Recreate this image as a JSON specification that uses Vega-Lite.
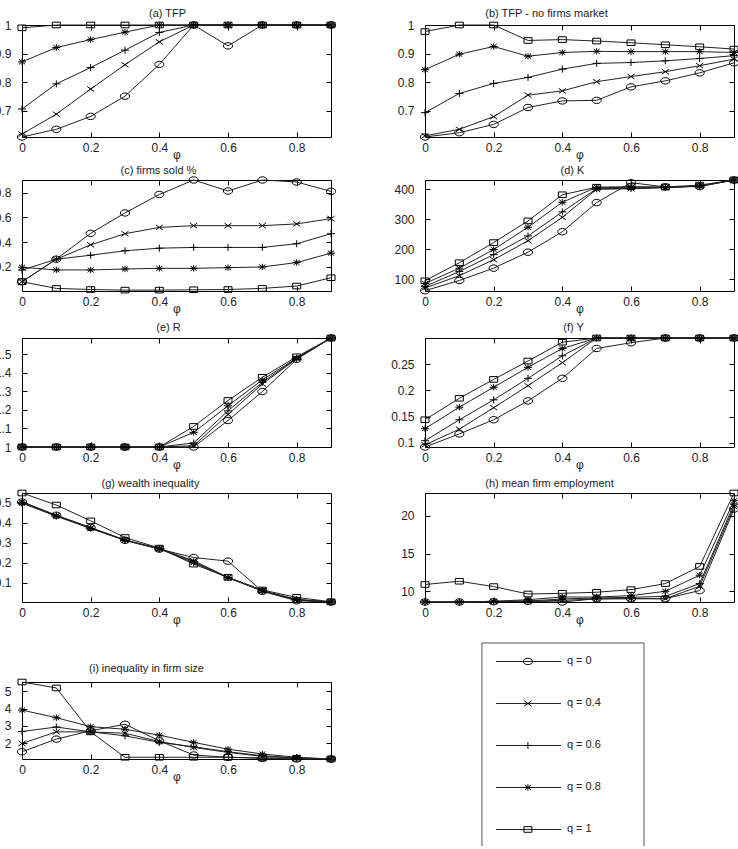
{
  "$schema": "https://vega.github.io/schema/vega-lite/v6.json",
  "background": "white",
  "padding": {"left": -7, "top": 7, "right": -2, "bottom": -8},
  "datasets": {
    "a": [
      {"q":0,"x":0,"y":0.608},{"q":0,"x":0.1,"y":0.635},{"q":0,"x":0.2,"y":0.68},{"q":0,"x":0.3,"y":0.751},{"q":0,"x":0.4,"y":0.862},{"q":0,"x":0.5,"y":1},{"q":0,"x":0.6,"y":0.927},{"q":0,"x":0.7,"y":1},{"q":0,"x":0.8,"y":1},{"q":0,"x":0.9,"y":1},
      {"q":0.4,"x":0,"y":0.618},{"q":0.4,"x":0.1,"y":0.688},{"q":0.4,"x":0.2,"y":0.776},{"q":0.4,"x":0.3,"y":0.861},{"q":0.4,"x":0.4,"y":0.941},{"q":0.4,"x":0.5,"y":1},{"q":0.4,"x":0.6,"y":1},{"q":0.4,"x":0.7,"y":1},{"q":0.4,"x":0.8,"y":1},{"q":0.4,"x":0.9,"y":1},
      {"q":0.6,"x":0,"y":0.706},{"q":0.6,"x":0.1,"y":0.794},{"q":0.6,"x":0.2,"y":0.851},{"q":0.6,"x":0.3,"y":0.912},{"q":0.6,"x":0.4,"y":0.974},{"q":0.6,"x":0.5,"y":1},{"q":0.6,"x":0.6,"y":1},{"q":0.6,"x":0.7,"y":1},{"q":0.6,"x":0.8,"y":1},{"q":0.6,"x":0.9,"y":1},
      {"q":0.8,"x":0,"y":0.871},{"q":0.8,"x":0.1,"y":0.921},{"q":0.8,"x":0.2,"y":0.949},{"q":0.8,"x":0.3,"y":0.975},{"q":0.8,"x":0.4,"y":1},{"q":0.8,"x":0.5,"y":1},{"q":0.8,"x":0.6,"y":1},{"q":0.8,"x":0.7,"y":1},{"q":0.8,"x":0.8,"y":1},{"q":0.8,"x":0.9,"y":1},
      {"q":1,"x":0,"y":0.99},{"q":1,"x":0.1,"y":1},{"q":1,"x":0.2,"y":1},{"q":1,"x":0.3,"y":1},{"q":1,"x":0.4,"y":1},{"q":1,"x":0.5,"y":1},{"q":1,"x":0.6,"y":1},{"q":1,"x":0.7,"y":1},{"q":1,"x":0.8,"y":1},{"q":1,"x":0.9,"y":1}
    ],
    "b": [
      {"q":0,"x":0,"y":0.609},{"q":0,"x":0.1,"y":0.624},{"q":0,"x":0.2,"y":0.653},{"q":0,"x":0.3,"y":0.712},{"q":0,"x":0.4,"y":0.735},{"q":0,"x":0.5,"y":0.737},{"q":0,"x":0.6,"y":0.784},{"q":0,"x":0.7,"y":0.805},{"q":0,"x":0.8,"y":0.833},{"q":0,"x":0.9,"y":0.868},
      {"q":0.4,"x":0,"y":0.613},{"q":0.4,"x":0.1,"y":0.636},{"q":0.4,"x":0.2,"y":0.68},{"q":0.4,"x":0.3,"y":0.755},{"q":0.4,"x":0.4,"y":0.77},{"q":0.4,"x":0.5,"y":0.802},{"q":0.4,"x":0.6,"y":0.82},{"q":0.4,"x":0.7,"y":0.837},{"q":0.4,"x":0.8,"y":0.858},{"q":0.4,"x":0.9,"y":0.881},
      {"q":0.6,"x":0,"y":0.694},{"q":0.6,"x":0.1,"y":0.761},{"q":0.6,"x":0.2,"y":0.796},{"q":0.6,"x":0.3,"y":0.817},{"q":0.6,"x":0.4,"y":0.846},{"q":0.6,"x":0.5,"y":0.866},{"q":0.6,"x":0.6,"y":0.869},{"q":0.6,"x":0.7,"y":0.875},{"q":0.6,"x":0.8,"y":0.883},{"q":0.6,"x":0.9,"y":0.893},
      {"q":0.8,"x":0,"y":0.844},{"q":0.8,"x":0.1,"y":0.898},{"q":0.8,"x":0.2,"y":0.925},{"q":0.8,"x":0.3,"y":0.891},{"q":0.8,"x":0.4,"y":0.904},{"q":0.8,"x":0.5,"y":0.908},{"q":0.8,"x":0.6,"y":0.907},{"q":0.8,"x":0.7,"y":0.907},{"q":0.8,"x":0.8,"y":0.907},{"q":0.8,"x":0.9,"y":0.904},
      {"q":1,"x":0,"y":0.977},{"q":1,"x":0.1,"y":1},{"q":1,"x":0.2,"y":1},{"q":1,"x":0.3,"y":0.946},{"q":1,"x":0.4,"y":0.949},{"q":1,"x":0.5,"y":0.944},{"q":1,"x":0.6,"y":0.938},{"q":1,"x":0.7,"y":0.931},{"q":1,"x":0.8,"y":0.924},{"q":1,"x":0.9,"y":0.916}
    ],
    "c": [
      {"q":0,"x":0,"y":0.081},{"q":0,"x":0.1,"y":0.263},{"q":0,"x":0.2,"y":0.472},{"q":0,"x":0.3,"y":0.637},{"q":0,"x":0.4,"y":0.786},{"q":0,"x":0.5,"y":0.903},{"q":0,"x":0.6,"y":0.814},{"q":0,"x":0.7,"y":0.903},{"q":0,"x":0.8,"y":0.887},{"q":0,"x":0.9,"y":0.811},
      {"q":0.4,"x":0,"y":0.081},{"q":0.4,"x":0.1,"y":0.263},{"q":0.4,"x":0.2,"y":0.379},{"q":0.4,"x":0.3,"y":0.469},{"q":0.4,"x":0.4,"y":0.52},{"q":0.4,"x":0.5,"y":0.534},{"q":0.4,"x":0.6,"y":0.534},{"q":0.4,"x":0.7,"y":0.534},{"q":0.4,"x":0.8,"y":0.548},{"q":0.4,"x":0.9,"y":0.591},
      {"q":0.6,"x":0,"y":0.175},{"q":0.6,"x":0.1,"y":0.263},{"q":0.6,"x":0.2,"y":0.295},{"q":0.6,"x":0.3,"y":0.331},{"q":0.6,"x":0.4,"y":0.352},{"q":0.6,"x":0.5,"y":0.358},{"q":0.6,"x":0.6,"y":0.358},{"q":0.6,"x":0.7,"y":0.358},{"q":0.6,"x":0.8,"y":0.388},{"q":0.6,"x":0.9,"y":0.469},
      {"q":0.8,"x":0,"y":0.198},{"q":0.8,"x":0.1,"y":0.176},{"q":0.8,"x":0.2,"y":0.176},{"q":0.8,"x":0.3,"y":0.184},{"q":0.8,"x":0.4,"y":0.189},{"q":0.8,"x":0.5,"y":0.189},{"q":0.8,"x":0.6,"y":0.195},{"q":0.8,"x":0.7,"y":0.2},{"q":0.8,"x":0.8,"y":0.236},{"q":0.8,"x":0.9,"y":0.312},
      {"q":1,"x":0,"y":0.081},{"q":1,"x":0.1,"y":0.027},{"q":1,"x":0.2,"y":0.018},{"q":1,"x":0.3,"y":0.013},{"q":1,"x":0.4,"y":0.013},{"q":1,"x":0.5,"y":0.016},{"q":1,"x":0.6,"y":0.018},{"q":1,"x":0.7,"y":0.027},{"q":1,"x":0.8,"y":0.046},{"q":1,"x":0.9,"y":0.113}
    ],
    "d": [
      {"q":0,"x":0,"y":62},{"q":0,"x":0.1,"y":96},{"q":0,"x":0.2,"y":137},{"q":0,"x":0.3,"y":190},{"q":0,"x":0.4,"y":258},{"q":0,"x":0.5,"y":355},{"q":0,"x":0.6,"y":421},{"q":0,"x":0.7,"y":407},{"q":0,"x":0.8,"y":408},{"q":0,"x":0.9,"y":430},
      {"q":0.4,"x":0,"y":71},{"q":0.4,"x":0.1,"y":112},{"q":0.4,"x":0.2,"y":165},{"q":0.4,"x":0.3,"y":228},{"q":0.4,"x":0.4,"y":306},{"q":0.4,"x":0.5,"y":399},{"q":0.4,"x":0.6,"y":401},{"q":0.4,"x":0.7,"y":405},{"q":0.4,"x":0.8,"y":410},{"q":0.4,"x":0.9,"y":430},
      {"q":0.6,"x":0,"y":76},{"q":0.6,"x":0.1,"y":126},{"q":0.6,"x":0.2,"y":182},{"q":0.6,"x":0.3,"y":244},{"q":0.6,"x":0.4,"y":324},{"q":0.6,"x":0.5,"y":401},{"q":0.6,"x":0.6,"y":402},{"q":0.6,"x":0.7,"y":405},{"q":0.6,"x":0.8,"y":410},{"q":0.6,"x":0.9,"y":430},
      {"q":0.8,"x":0,"y":86},{"q":0.8,"x":0.1,"y":137},{"q":0.8,"x":0.2,"y":199},{"q":0.8,"x":0.3,"y":273},{"q":0.8,"x":0.4,"y":356},{"q":0.8,"x":0.5,"y":406},{"q":0.8,"x":0.6,"y":404},{"q":0.8,"x":0.7,"y":405},{"q":0.8,"x":0.8,"y":410},{"q":0.8,"x":0.9,"y":430},
      {"q":1,"x":0,"y":95},{"q":1,"x":0.1,"y":155},{"q":1,"x":0.2,"y":222},{"q":1,"x":0.3,"y":294},{"q":1,"x":0.4,"y":381},{"q":1,"x":0.5,"y":406},{"q":1,"x":0.6,"y":408},{"q":1,"x":0.7,"y":407},{"q":1,"x":0.8,"y":413},{"q":1,"x":0.9,"y":430}
    ],
    "e": [
      {"q":0,"x":0,"y":1},{"q":0,"x":0.1,"y":1},{"q":0,"x":0.2,"y":1},{"q":0,"x":0.3,"y":1},{"q":0,"x":0.4,"y":1},{"q":0,"x":0.5,"y":1},{"q":0,"x":0.6,"y":1.143},{"q":0,"x":0.7,"y":1.299},{"q":0,"x":0.8,"y":1.473},{"q":0,"x":0.9,"y":1.588},
      {"q":0.4,"x":0,"y":1},{"q":0.4,"x":0.1,"y":1},{"q":0.4,"x":0.2,"y":1},{"q":0.4,"x":0.3,"y":1},{"q":0.4,"x":0.4,"y":1},{"q":0.4,"x":0.5,"y":1.007},{"q":0.4,"x":0.6,"y":1.175},{"q":0.4,"x":0.7,"y":1.34},{"q":0.4,"x":0.8,"y":1.476},{"q":0.4,"x":0.9,"y":1.588},
      {"q":0.6,"x":0,"y":1},{"q":0.6,"x":0.1,"y":1},{"q":0.6,"x":0.2,"y":1},{"q":0.6,"x":0.3,"y":1},{"q":0.6,"x":0.4,"y":1},{"q":0.6,"x":0.5,"y":1.022},{"q":0.6,"x":0.6,"y":1.195},{"q":0.6,"x":0.7,"y":1.349},{"q":0.6,"x":0.8,"y":1.478},{"q":0.6,"x":0.9,"y":1.588},
      {"q":0.8,"x":0,"y":1},{"q":0.8,"x":0.1,"y":1},{"q":0.8,"x":0.2,"y":1},{"q":0.8,"x":0.3,"y":1},{"q":0.8,"x":0.4,"y":1},{"q":0.8,"x":0.5,"y":1.079},{"q":0.8,"x":0.6,"y":1.222},{"q":0.8,"x":0.7,"y":1.362},{"q":0.8,"x":0.8,"y":1.48},{"q":0.8,"x":0.9,"y":1.588},
      {"q":1,"x":0,"y":1},{"q":1,"x":0.1,"y":1},{"q":1,"x":0.2,"y":1},{"q":1,"x":0.3,"y":1},{"q":1,"x":0.4,"y":1},{"q":1,"x":0.5,"y":1.111},{"q":1,"x":0.6,"y":1.251},{"q":1,"x":0.7,"y":1.376},{"q":1,"x":0.8,"y":1.487},{"q":1,"x":0.9,"y":1.588}
    ],
    "f": [
      {"q":0,"x":0,"y":0.092},{"q":0,"x":0.1,"y":0.117},{"q":0,"x":0.2,"y":0.144},{"q":0,"x":0.3,"y":0.18},{"q":0,"x":0.4,"y":0.223},{"q":0,"x":0.5,"y":0.28},{"q":0,"x":0.6,"y":0.291},{"q":0,"x":0.7,"y":0.3},{"q":0,"x":0.8,"y":0.3},{"q":0,"x":0.9,"y":0.3},
      {"q":0.4,"x":0,"y":0.096},{"q":0.4,"x":0.1,"y":0.126},{"q":0.4,"x":0.2,"y":0.167},{"q":0.4,"x":0.3,"y":0.209},{"q":0.4,"x":0.4,"y":0.253},{"q":0.4,"x":0.5,"y":0.3},{"q":0.4,"x":0.6,"y":0.3},{"q":0.4,"x":0.7,"y":0.3},{"q":0.4,"x":0.8,"y":0.3},{"q":0.4,"x":0.9,"y":0.3},
      {"q":0.6,"x":0,"y":0.104},{"q":0.6,"x":0.1,"y":0.144},{"q":0.6,"x":0.2,"y":0.182},{"q":0.6,"x":0.3,"y":0.223},{"q":0.6,"x":0.4,"y":0.266},{"q":0.6,"x":0.5,"y":0.3},{"q":0.6,"x":0.6,"y":0.3},{"q":0.6,"x":0.7,"y":0.3},{"q":0.6,"x":0.8,"y":0.3},{"q":0.6,"x":0.9,"y":0.3},
      {"q":0.8,"x":0,"y":0.127},{"q":0.8,"x":0.1,"y":0.168},{"q":0.8,"x":0.2,"y":0.206},{"q":0.8,"x":0.3,"y":0.244},{"q":0.8,"x":0.4,"y":0.28},{"q":0.8,"x":0.5,"y":0.3},{"q":0.8,"x":0.6,"y":0.3},{"q":0.8,"x":0.7,"y":0.3},{"q":0.8,"x":0.8,"y":0.3},{"q":0.8,"x":0.9,"y":0.3},
      {"q":1,"x":0,"y":0.144},{"q":1,"x":0.1,"y":0.185},{"q":1,"x":0.2,"y":0.221},{"q":1,"x":0.3,"y":0.256},{"q":1,"x":0.4,"y":0.292},{"q":1,"x":0.5,"y":0.3},{"q":1,"x":0.6,"y":0.3},{"q":1,"x":0.7,"y":0.3},{"q":1,"x":0.8,"y":0.3},{"q":1,"x":0.9,"y":0.3}
    ],
    "g": [
      {"q":0,"x":0,"y":0.503},{"q":0,"x":0.1,"y":0.437},{"q":0,"x":0.2,"y":0.376},{"q":0,"x":0.3,"y":0.312},{"q":0,"x":0.4,"y":0.268},{"q":0,"x":0.5,"y":0.226},{"q":0,"x":0.6,"y":0.208},{"q":0,"x":0.7,"y":0.057},{"q":0,"x":0.8,"y":0.01},{"q":0,"x":0.9,"y":0.004},
      {"q":0.4,"x":0,"y":0.505},{"q":0.4,"x":0.1,"y":0.436},{"q":0.4,"x":0.2,"y":0.374},{"q":0.4,"x":0.3,"y":0.314},{"q":0.4,"x":0.4,"y":0.271},{"q":0.4,"x":0.5,"y":0.21},{"q":0.4,"x":0.6,"y":0.127},{"q":0.4,"x":0.7,"y":0.06},{"q":0.4,"x":0.8,"y":0.017},{"q":0.4,"x":0.9,"y":0.004},
      {"q":0.6,"x":0,"y":0.5},{"q":0.6,"x":0.1,"y":0.434},{"q":0.6,"x":0.2,"y":0.372},{"q":0.6,"x":0.3,"y":0.313},{"q":0.6,"x":0.4,"y":0.27},{"q":0.6,"x":0.5,"y":0.205},{"q":0.6,"x":0.6,"y":0.126},{"q":0.6,"x":0.7,"y":0.06},{"q":0.6,"x":0.8,"y":0.016},{"q":0.6,"x":0.9,"y":0.004},
      {"q":0.8,"x":0,"y":0.497},{"q":0.8,"x":0.1,"y":0.432},{"q":0.8,"x":0.2,"y":0.371},{"q":0.8,"x":0.3,"y":0.311},{"q":0.8,"x":0.4,"y":0.269},{"q":0.8,"x":0.5,"y":0.2},{"q":0.8,"x":0.6,"y":0.125},{"q":0.8,"x":0.7,"y":0.059},{"q":0.8,"x":0.8,"y":0.015},{"q":0.8,"x":0.9,"y":0.004},
      {"q":1,"x":0,"y":0.548},{"q":1,"x":0.1,"y":0.488},{"q":1,"x":0.2,"y":0.409},{"q":1,"x":0.3,"y":0.326},{"q":1,"x":0.4,"y":0.273},{"q":1,"x":0.5,"y":0.193},{"q":1,"x":0.6,"y":0.127},{"q":1,"x":0.7,"y":0.064},{"q":1,"x":0.8,"y":0.027},{"q":1,"x":0.9,"y":0.005}
    ],
    "h": [
      {"q":0,"x":0,"y":8.58},{"q":0,"x":0.1,"y":8.58},{"q":0,"x":0.2,"y":8.62},{"q":0,"x":0.3,"y":8.67},{"q":0,"x":0.4,"y":8.58},{"q":0,"x":0.5,"y":9.02},{"q":0,"x":0.6,"y":9.02},{"q":0,"x":0.7,"y":9.02},{"q":0,"x":0.8,"y":10.09},{"q":0,"x":0.9,"y":20.89},
      {"q":0.4,"x":0,"y":8.58},{"q":0.4,"x":0.1,"y":8.58},{"q":0.4,"x":0.2,"y":8.62},{"q":0.4,"x":0.3,"y":8.67},{"q":0.4,"x":0.4,"y":8.8},{"q":0.4,"x":0.5,"y":8.98},{"q":0.4,"x":0.6,"y":9.02},{"q":0.4,"x":0.7,"y":9.02},{"q":0.4,"x":0.8,"y":10.67},{"q":0.4,"x":0.9,"y":21.2},
      {"q":0.6,"x":0,"y":8.58},{"q":0.6,"x":0.1,"y":8.58},{"q":0.6,"x":0.2,"y":8.67},{"q":0.6,"x":0.3,"y":8.71},{"q":0.6,"x":0.4,"y":8.98},{"q":0.6,"x":0.5,"y":9.11},{"q":0.6,"x":0.6,"y":9.2},{"q":0.6,"x":0.7,"y":9.33},{"q":0.6,"x":0.8,"y":11.02},{"q":0.6,"x":0.9,"y":21.56},
      {"q":0.8,"x":0,"y":8.58},{"q":0.8,"x":0.1,"y":8.58},{"q":0.8,"x":0.2,"y":8.67},{"q":0.8,"x":0.3,"y":8.89},{"q":0.8,"x":0.4,"y":9.24},{"q":0.8,"x":0.5,"y":9.24},{"q":0.8,"x":0.6,"y":9.42},{"q":0.8,"x":0.7,"y":10.0},{"q":0.8,"x":0.8,"y":12.13},{"q":0.8,"x":0.9,"y":22.0},
      {"q":1,"x":0,"y":10.9},{"q":1,"x":0.1,"y":11.33},{"q":1,"x":0.2,"y":10.62},{"q":1,"x":0.3,"y":9.64},{"q":1,"x":0.4,"y":9.73},{"q":1,"x":0.5,"y":9.87},{"q":1,"x":0.6,"y":10.22},{"q":1,"x":0.7,"y":11.02},{"q":1,"x":0.8,"y":13.29},{"q":1,"x":0.9,"y":23.02}
    ],
    "i": [
      {"q":0,"x":0,"y":1.5},{"q":0,"x":0.1,"y":2.23},{"q":0,"x":0.2,"y":2.71},{"q":0,"x":0.3,"y":3.09},{"q":0,"x":0.4,"y":2.13},{"q":0,"x":0.5,"y":1.31},{"q":0,"x":0.6,"y":1.18},{"q":0,"x":0.7,"y":1.12},{"q":0,"x":0.8,"y":1.08},{"q":0,"x":0.9,"y":1.08},
      {"q":0.4,"x":0,"y":1.98},{"q":0.4,"x":0.1,"y":2.65},{"q":0.4,"x":0.2,"y":2.65},{"q":0.4,"x":0.3,"y":2.57},{"q":0.4,"x":0.4,"y":2.09},{"q":0.4,"x":0.5,"y":1.75},{"q":0.4,"x":0.6,"y":1.46},{"q":0.4,"x":0.7,"y":1.23},{"q":0.4,"x":0.8,"y":1.14},{"q":0.4,"x":0.9,"y":1.08},
      {"q":0.6,"x":0,"y":2.67},{"q":0.6,"x":0.1,"y":2.93},{"q":0.6,"x":0.2,"y":2.65},{"q":0.6,"x":0.3,"y":2.42},{"q":0.6,"x":0.4,"y":2.04},{"q":0.6,"x":0.5,"y":1.79},{"q":0.6,"x":0.6,"y":1.5},{"q":0.6,"x":0.7,"y":1.27},{"q":0.6,"x":0.8,"y":1.14},{"q":0.6,"x":0.9,"y":1.08},
      {"q":0.8,"x":0,"y":3.91},{"q":0.8,"x":0.1,"y":3.47},{"q":0.8,"x":0.2,"y":2.95},{"q":0.8,"x":0.3,"y":2.8},{"q":0.8,"x":0.4,"y":2.46},{"q":0.8,"x":0.5,"y":2.04},{"q":0.8,"x":0.6,"y":1.65},{"q":0.8,"x":0.7,"y":1.37},{"q":0.8,"x":0.8,"y":1.18},{"q":0.8,"x":0.9,"y":1.08},
      {"q":1,"x":0,"y":5.535},{"q":1,"x":0.1,"y":5.19},{"q":1,"x":0.2,"y":2.65},{"q":1,"x":0.3,"y":1.18},{"q":1,"x":0.4,"y":1.18},{"q":1,"x":0.5,"y":1.18},{"q":1,"x":0.6,"y":1.18},{"q":1,"x":0.7,"y":1.14},{"q":1,"x":0.8,"y":1.12},{"q":1,"x":0.9,"y":1.08}
    ],
    "leg": [
      {"q":0,"label":"q = 0"},{"q":0.4,"label":"q = 0.4"},{"q":0.6,"label":"q = 0.6"},{"q":0.8,"label":"q = 0.8"},{"q":1,"label":"q = 1"}
    ]
  },
  "hconcat": [
    {
      "spacing": 36,
      "vconcat": [
        {
          "spacing": 3,
          "vconcat": [
            {"data":{"name":"a"},"width":309,"height":112,"title":{"text":"(a) TFP","dx":-9,"offset":0},
             "layer":[
              {"mark":"line","encoding":{"x":{"field":"x","type":"quantitative","scale":{"domain":[0,0.9],"nice":false},"axis":{"title":"φ"}},"y":{"field":"y","type":"quantitative","scale":{"domain":[0.608,1],"zero":false,"nice":false},"axis":{"title":null,"values":[0.7,0.8,0.9,1]}},"detail":{"field":"q"}}},
              {"mark":"point","encoding":{"x":{"field":"x","type":"quantitative","axis":{"orient":"top","title":null}},"y":{"field":"y","type":"quantitative","axis":{"orient":"right","title":null,"values":[0.7,0.8,0.9,1]}},"shape":{"field":"q","type":"nominal","scale":{"domain":[0,0.4,0.6,0.8,1],"range":["M2.3,0C2.3,0.88,1.27,1.6,0,1.6C-1.27,1.6,-2.3,0.88,-2.3,0C-2.3,-0.88,-1.27,-1.6,0,-1.6C1.27,-1.6,2.3,-0.88,2.3,0Z","M-1.75,-1.25L1.75,1.25M-1.75,1.25L1.75,-1.25","M-2,0L2,0M0,-1.75L0,1.75","M-2,0L2,0M0,-1.6L0,1.6M-1.5,-1.2L1.5,1.2M-1.5,1.2L1.5,-1.2","M-2,-1.4L2,-1.4L2,1.4L-2,1.4Z"]},"legend":null}}}
             ],
             "resolve":{"axis":{"x":"independent","y":"independent"}}},
            {
              "spacing": 6,
              "vconcat": [
                {"data":{"name":"c"},"width":309,"height":111,"title":{"text":"(c) firms sold %","dx":-18,"offset":-1},
                 "layer":[
                  {"mark":"line","encoding":{"x":{"field":"x","type":"quantitative","scale":{"domain":[0,0.9],"nice":false},"axis":{"title":"φ"}},"y":{"field":"y","type":"quantitative","scale":{"domain":[0.006,0.903],"zero":false,"nice":false},"axis":{"title":null,"values":[0.2,0.4,0.6,0.8]}},"detail":{"field":"q"}}},
                  {"mark":"point","encoding":{"x":{"field":"x","type":"quantitative","axis":{"orient":"top","title":null}},"y":{"field":"y","type":"quantitative","axis":{"orient":"right","title":null,"values":[0.2,0.4,0.6,0.8]}},"shape":{"field":"q","type":"nominal","scale":{"domain":[0,0.4,0.6,0.8,1],"range":["M2.3,0C2.3,0.88,1.27,1.6,0,1.6C-1.27,1.6,-2.3,0.88,-2.3,0C-2.3,-0.88,-1.27,-1.6,0,-1.6C1.27,-1.6,2.3,-0.88,2.3,0Z","M-1.75,-1.25L1.75,1.25M-1.75,1.25L1.75,-1.25","M-2,0L2,0M0,-1.75L0,1.75","M-2,0L2,0M0,-1.6L0,1.6M-1.5,-1.2L1.5,1.2M-1.5,1.2L1.5,-1.2","M-2,-1.4L2,-1.4L2,1.4L-2,1.4Z"]},"legend":null}}}
                 ],
                 "resolve":{"axis":{"x":"independent","y":"independent"}}},
                {"data":{"name":"e"},"width":309,"height":109,"title":{"text":"(e) R","dx":-8,"offset":0},
                 "layer":[
                  {"mark":"line","encoding":{"x":{"field":"x","type":"quantitative","scale":{"domain":[0,0.9],"nice":false},"axis":{"title":"φ"}},"y":{"field":"y","type":"quantitative","scale":{"domain":[1,1.588],"zero":false,"nice":false},"axis":{"title":null,"values":[1,1.1,1.2,1.3,1.4,1.5]}},"detail":{"field":"q"}}},
                  {"mark":"point","encoding":{"x":{"field":"x","type":"quantitative","axis":{"orient":"top","title":null}},"y":{"field":"y","type":"quantitative","axis":{"orient":"right","title":null,"values":[1,1.1,1.2,1.3,1.4,1.5]}},"shape":{"field":"q","type":"nominal","scale":{"domain":[0,0.4,0.6,0.8,1],"range":["M2.3,0C2.3,0.88,1.27,1.6,0,1.6C-1.27,1.6,-2.3,0.88,-2.3,0C-2.3,-0.88,-1.27,-1.6,0,-1.6C1.27,-1.6,2.3,-0.88,2.3,0Z","M-1.75,-1.25L1.75,1.25M-1.75,1.25L1.75,-1.25","M-2,0L2,0M0,-1.75L0,1.75","M-2,0L2,0M0,-1.6L0,1.6M-1.5,-1.2L1.5,1.2M-1.5,1.2L1.5,-1.2","M-2,-1.4L2,-1.4L2,1.4L-2,1.4Z"]},"legend":null}}}
                 ],
                 "resolve":{"axis":{"x":"independent","y":"independent"}}},
                {"data":{"name":"g"},"width":309,"height":109,"title":{"text":"(g) wealth inequality","dx":-26,"offset":-1},
                 "layer":[
                  {"mark":"line","encoding":{"x":{"field":"x","type":"quantitative","scale":{"domain":[0,0.9],"nice":false},"axis":{"title":"φ"}},"y":{"field":"y","type":"quantitative","scale":{"domain":[0.004,0.548],"zero":false,"nice":false},"axis":{"title":null,"values":[0.1,0.2,0.3,0.4,0.5]}},"detail":{"field":"q"}}},
                  {"mark":"point","encoding":{"x":{"field":"x","type":"quantitative","axis":{"orient":"top","title":null}},"y":{"field":"y","type":"quantitative","axis":{"orient":"right","title":null,"values":[0.1,0.2,0.3,0.4,0.5]}},"shape":{"field":"q","type":"nominal","scale":{"domain":[0,0.4,0.6,0.8,1],"range":["M2.3,0C2.3,0.88,1.27,1.6,0,1.6C-1.27,1.6,-2.3,0.88,-2.3,0C-2.3,-0.88,-1.27,-1.6,0,-1.6C1.27,-1.6,2.3,-0.88,2.3,0Z","M-1.75,-1.25L1.75,1.25M-1.75,1.25L1.75,-1.25","M-2,0L2,0M0,-1.75L0,1.75","M-2,0L2,0M0,-1.6L0,1.6M-1.5,-1.2L1.5,1.2M-1.5,1.2L1.5,-1.2","M-2,-1.4L2,-1.4L2,1.4L-2,1.4Z"]},"legend":null}}}
                 ],
                 "resolve":{"axis":{"x":"independent","y":"independent"}}}
              ]
            }
          ]
        },
        {"data":{"name":"i"},"width":309,"height":77,"title":{"text":"(i) inequality in firm size","dx":-30,"offset":3},
         "layer":[
          {"mark":"line","encoding":{"x":{"field":"x","type":"quantitative","scale":{"domain":[0,0.9],"nice":false},"axis":{"title":"φ"}},"y":{"field":"y","type":"quantitative","scale":{"domain":[1.08,5.535],"zero":false,"nice":false},"axis":{"title":null,"values":[2,3,4,5]}},"detail":{"field":"q"}}},
          {"mark":"point","encoding":{"x":{"field":"x","type":"quantitative","axis":{"orient":"top","title":null}},"y":{"field":"y","type":"quantitative","axis":{"orient":"right","title":null,"values":[2,3,4,5]}},"shape":{"field":"q","type":"nominal","scale":{"domain":[0,0.4,0.6,0.8,1],"range":["M2.3,0C2.3,0.88,1.27,1.6,0,1.6C-1.27,1.6,-2.3,0.88,-2.3,0C-2.3,-0.88,-1.27,-1.6,0,-1.6C1.27,-1.6,2.3,-0.88,2.3,0Z","M-1.75,-1.25L1.75,1.25M-1.75,1.25L1.75,-1.25","M-2,0L2,0M0,-1.75L0,1.75","M-2,0L2,0M0,-1.6L0,1.6M-1.5,-1.2L1.5,1.2M-1.5,1.2L1.5,-1.2","M-2,-1.4L2,-1.4L2,1.4L-2,1.4Z"]},"legend":null}}}
         ],
         "resolve":{"axis":{"x":"independent","y":"independent"}}}
      ]
    },
    {
      "spacing": 16,
      "vconcat": [
        {
          "spacing": 3,
          "vconcat": [
            {"data":{"name":"b"},"width":309,"height":112,"title":{"text":"(b) TFP - no firms market","dx":-33,"offset":0},
             "layer":[
              {"mark":"line","encoding":{"x":{"field":"x","type":"quantitative","scale":{"domain":[0,0.9],"nice":false},"axis":{"title":"φ"}},"y":{"field":"y","type":"quantitative","scale":{"domain":[0.609,1],"zero":false,"nice":false},"axis":{"title":null,"values":[0.7,0.8,0.9,1]}},"detail":{"field":"q"}}},
              {"mark":"point","encoding":{"x":{"field":"x","type":"quantitative","axis":{"orient":"top","title":null}},"y":{"field":"y","type":"quantitative","axis":{"orient":"right","title":null,"values":[0.7,0.8,0.9,1]}},"shape":{"field":"q","type":"nominal","scale":{"domain":[0,0.4,0.6,0.8,1],"range":["M2.3,0C2.3,0.88,1.27,1.6,0,1.6C-1.27,1.6,-2.3,0.88,-2.3,0C-2.3,-0.88,-1.27,-1.6,0,-1.6C1.27,-1.6,2.3,-0.88,2.3,0Z","M-1.75,-1.25L1.75,1.25M-1.75,1.25L1.75,-1.25","M-2,0L2,0M0,-1.75L0,1.75","M-2,0L2,0M0,-1.6L0,1.6M-1.5,-1.2L1.5,1.2M-1.5,1.2L1.5,-1.2","M-2,-1.4L2,-1.4L2,1.4L-2,1.4Z"]},"legend":null}}}
             ],
             "resolve":{"axis":{"x":"independent","y":"independent"}}},
            {
              "spacing": 6,
              "vconcat": [
                {"data":{"name":"d"},"width":309,"height":111,"title":{"text":"(d) K","dx":-7,"offset":-1},
                 "layer":[
                  {"mark":"line","encoding":{"x":{"field":"x","type":"quantitative","scale":{"domain":[0,0.9],"nice":false},"axis":{"title":"φ"}},"y":{"field":"y","type":"quantitative","scale":{"domain":[61,430],"zero":false,"nice":false},"axis":{"title":null,"values":[100,200,300,400]}},"detail":{"field":"q"}}},
                  {"mark":"point","encoding":{"x":{"field":"x","type":"quantitative","axis":{"orient":"top","title":null}},"y":{"field":"y","type":"quantitative","axis":{"orient":"right","title":null,"values":[100,200,300,400]}},"shape":{"field":"q","type":"nominal","scale":{"domain":[0,0.4,0.6,0.8,1],"range":["M2.3,0C2.3,0.88,1.27,1.6,0,1.6C-1.27,1.6,-2.3,0.88,-2.3,0C-2.3,-0.88,-1.27,-1.6,0,-1.6C1.27,-1.6,2.3,-0.88,2.3,0Z","M-1.75,-1.25L1.75,1.25M-1.75,1.25L1.75,-1.25","M-2,0L2,0M0,-1.75L0,1.75","M-2,0L2,0M0,-1.6L0,1.6M-1.5,-1.2L1.5,1.2M-1.5,1.2L1.5,-1.2","M-2,-1.4L2,-1.4L2,1.4L-2,1.4Z"]},"legend":null}}}
                 ],
                 "resolve":{"axis":{"x":"independent","y":"independent"}}},
                {"data":{"name":"f"},"width":309,"height":109,"title":{"text":"(f) Y","dx":-6,"offset":0},
                 "layer":[
                  {"mark":"line","encoding":{"x":{"field":"x","type":"quantitative","scale":{"domain":[0,0.9],"nice":false},"axis":{"title":"φ"}},"y":{"field":"y","type":"quantitative","scale":{"domain":[0.092,0.3],"zero":false,"nice":false},"axis":{"title":null,"values":[0.1,0.15,0.2,0.25]}},"detail":{"field":"q"}}},
                  {"mark":"point","encoding":{"x":{"field":"x","type":"quantitative","axis":{"orient":"top","title":null}},"y":{"field":"y","type":"quantitative","axis":{"orient":"right","title":null,"values":[0.1,0.15,0.2,0.25]}},"shape":{"field":"q","type":"nominal","scale":{"domain":[0,0.4,0.6,0.8,1],"range":["M2.3,0C2.3,0.88,1.27,1.6,0,1.6C-1.27,1.6,-2.3,0.88,-2.3,0C-2.3,-0.88,-1.27,-1.6,0,-1.6C1.27,-1.6,2.3,-0.88,2.3,0Z","M-1.75,-1.25L1.75,1.25M-1.75,1.25L1.75,-1.25","M-2,0L2,0M0,-1.75L0,1.75","M-2,0L2,0M0,-1.6L0,1.6M-1.5,-1.2L1.5,1.2M-1.5,1.2L1.5,-1.2","M-2,-1.4L2,-1.4L2,1.4L-2,1.4Z"]},"legend":null}}}
                 ],
                 "resolve":{"axis":{"x":"independent","y":"independent"}}},
                {"data":{"name":"h"},"width":309,"height":109,"title":{"text":"(h) mean firm employment","dx":-30,"offset":-1},
                 "layer":[
                  {"mark":"line","encoding":{"x":{"field":"x","type":"quantitative","scale":{"domain":[0,0.9],"nice":false},"axis":{"title":"φ"}},"y":{"field":"y","type":"quantitative","scale":{"domain":[8.58,23.02],"zero":false,"nice":false},"axis":{"title":null,"values":[10,15,20]}},"detail":{"field":"q"}}},
                  {"mark":"point","encoding":{"x":{"field":"x","type":"quantitative","axis":{"orient":"top","title":null}},"y":{"field":"y","type":"quantitative","axis":{"orient":"right","title":null,"values":[10,15,20]}},"shape":{"field":"q","type":"nominal","scale":{"domain":[0,0.4,0.6,0.8,1],"range":["M2.3,0C2.3,0.88,1.27,1.6,0,1.6C-1.27,1.6,-2.3,0.88,-2.3,0C-2.3,-0.88,-1.27,-1.6,0,-1.6C1.27,-1.6,2.3,-0.88,2.3,0Z","M-1.75,-1.25L1.75,1.25M-1.75,1.25L1.75,-1.25","M-2,0L2,0M0,-1.75L0,1.75","M-2,0L2,0M0,-1.6L0,1.6M-1.5,-1.2L1.5,1.2M-1.5,1.2L1.5,-1.2","M-2,-1.4L2,-1.4L2,1.4L-2,1.4Z"]},"legend":null}}}
                 ],
                 "resolve":{"axis":{"x":"independent","y":"independent"}}}
              ]
            }
          ]
        },
        {"data":{"name":"leg"},"width":219,"height":210,"view":{"stroke":null},
         "layer":[
          {"data":{"values":[{}]},"mark":{"type":"rect","fill":"transparent","stroke":"#555","strokeWidth":1},"encoding":{"x":{"datum":0.26,"type":"quantitative","scale":{"domain":[0,1],"nice":false},"axis":null},"x2":{"datum":1}}},
          {"mark":{"type":"rule","color":"#222","strokeWidth":1},"encoding":{"x":{"datum":0.324,"type":"quantitative"},"x2":{"datum":0.621},"y":{"field":"label","type":"nominal","sort":null,"scale":{"type":"point","paddingOuter":0.625,"align":0.44},"axis":null}}},
          {"mark":"point","encoding":{"x":{"datum":0.47,"type":"quantitative"},"y":{"field":"label","type":"nominal","sort":null},"shape":{"field":"q","type":"nominal","scale":{"domain":[0,0.4,0.6,0.8,1],"range":["M2.3,0C2.3,0.88,1.27,1.6,0,1.6C-1.27,1.6,-2.3,0.88,-2.3,0C-2.3,-0.88,-1.27,-1.6,0,-1.6C1.27,-1.6,2.3,-0.88,2.3,0Z","M-1.75,-1.25L1.75,1.25M-1.75,1.25L1.75,-1.25","M-2,0L2,0M0,-1.75L0,1.75","M-2,0L2,0M0,-1.6L0,1.6M-1.5,-1.2L1.5,1.2M-1.5,1.2L1.5,-1.2","M-2,-1.4L2,-1.4L2,1.4L-2,1.4Z"]},"legend":null}}},
          {"mark":{"type":"text","align":"left","baseline":"middle","fontSize":11,"color":"#222"},"encoding":{"x":{"datum":0.648,"type":"quantitative"},"y":{"field":"label","type":"nominal","sort":null},"text":{"field":"label"}}}
         ]}
      ]
    }
  ],
  "spacing": 51,
  "config": {
    "font": "Liberation Sans",
    "numberFormat": "~f",
    "view": {"stroke": "#000", "strokeWidth": 1},
    "title": {"fontSize": 11, "fontWeight": "normal", "color": "#222", "anchor": "middle"},
    "axis": {"domain": false, "grid": false, "tickColor": "#000", "tickSize": -5, "labelFontSize": 12, "labelColor": "#222", "titleFontSize": 12, "titleFontWeight": "normal", "titleColor": "#222", "labelFlush": false, "labelOverlap": false},
    "axisX": {"tickCount": 5, "labelPadding": 10, "titlePadding": -4},
    "axisY": {"labelPadding": 16},
    "axisTop": {"labels": false},
    "axisRight": {"labels": false},
    "line": {"color": "#222", "strokeWidth": 1},
    "point": {"filled": false, "color": "#000", "size": 16, "strokeWidth": 1, "opacity": 1}
  }
}
